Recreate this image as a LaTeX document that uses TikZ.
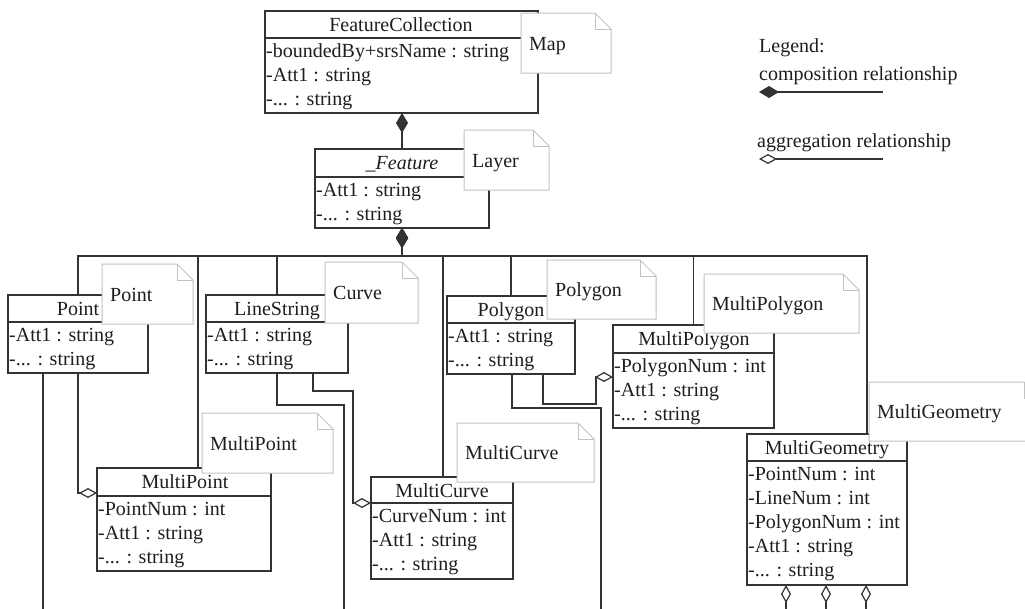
\documentclass[tikz,border=0pt]{standalone}
\usepackage{fontspec}
\setmainfont{Liberation Serif}
\usetikzlibrary{arrows.meta,calc}
\definecolor{ink}{HTML}{333333}
\definecolor{txt}{HTML}{1E1E1E}
\definecolor{notegray}{HTML}{C2C2C2}
\newcommand\tdots{...}
\tikzset{
  clsbox/.style={draw=ink, line width=1.2pt, fill=white, inner sep=0pt, outer sep=0pt, anchor=north west},
  clsline/.style={draw=ink, line width=1.2pt},
  clstitle/.style={inner sep=0pt, anchor=base, text=txt},
  clsattr/.style={inner sep=0pt, anchor=base west, text=txt},
  notebox/.style={inner sep=0pt, outer sep=0pt, anchor=north west},
  noteline/.style={draw=notegray, line width=1pt, fill=white},
  notetext/.style={inner sep=0pt, anchor=base west, text=txt},
  conn/.style={draw=ink, line width=1.2pt},
  comp/.style={conn, {Diamond[length=20pt,width=12pt]}-},
  agg/.style={conn, {Diamond[open,fill=white,length=18pt,width=10pt]}-},
  legtext/.style={inner sep=0pt, anchor=base west, text=txt}
}
% name, x1, y1, x2, ysep, y2, title x, title, rows
\newcommand\umlclass[9]{%
  \node[clsbox, minimum width={#4-#2}, minimum height={#6-#3}] (#1) at (#2,#3) {};
  \draw[clsline] (#1.west |- #2,#5) -- (#1.east |- #2,#5);
  \node[clstitle] (#1-t) at (#7,#3+20) {#8};
  \foreach \attrtext [count=\attrnum from 0] in {#9} {
    \node[clsattr] (#1-a\attrnum) at (#2+1,#5+19+24*\attrnum) {\attrtext};
  }%
}
% name, x1, y1, x2, y2, text
\newcommand\umlnote[6]{%
  \node[notebox, minimum width={#4-#2}, minimum height={#5-#3}] (#1) at (#2,#3) {};
  \draw[noteline] (#1.north west) -- ([xshift=-16pt]#1.north east) -- ([yshift=-16pt]#1.north east) -- (#1.south east) -- (#1.south west) -- cycle;
  \draw[noteline, fill=none] ([xshift=-16pt]#1.north east) |- ([yshift=-16pt]#1.north east);
  \node[notetext] (#1-t) at (#2+8,{(#3+#5)/2+7}) {#6};
}
\begin{document}
\begin{tikzpicture}[x=1pt,y=-1pt,font=\fontsize{20}{24}\selectfont]
\useasboundingbox[fill=white] (0,0) rectangle (1025,608);

% classes
\umlclass{fc}{265}{11}{538}{38}{113}{401}{FeatureCollection}{-boundedBy+srsName : string,-Att1 : string,-\tdots{} : string}
\umlclass{feat}{315}{149}{489}{177}{228}{402}{\itshape \_Feature}{-Att1 : string,-\tdots{} : string}
\umlclass{point}{8}{295}{148}{322}{373}{78}{Point}{-Att1 : string,-\tdots{} : string}
\umlclass{ls}{206}{295}{348}{322}{373}{277}{LineString}{-Att1 : string,-\tdots{} : string}
\umlclass{pg}{447}{296}{575}{323}{374}{511}{Polygon}{-Att1 : string,-\tdots{} : string}
\umlclass{mpg}{613}{325}{774}{353}{428}{694}{MultiPolygon}{-PolygonNum : int,-Att1 : string,-\tdots{} : string}
\umlclass{mpt}{97}{468}{271}{496}{571}{185}{MultiPoint}{-PointNum : int,-Att1 : string,-\tdots{} : string}
\umlclass{mc}{371}{477}{513}{503}{579}{442}{MultiCurve}{-CurveNum : int,-Att1 : string,-\tdots{} : string}
\umlclass{mg}{747}{434}{907}{461}{585}{827}{MultiGeometry}{-PointNum : int,-LineNum : int,-PolygonNum : int,-Att1 : string,-\tdots{} : string}

% free ends below the picture
\coordinate (b1) at (43,620);
\coordinate (b2) at (344,620);
\coordinate (b3) at (601,620);
\coordinate (b4) at (786,620);
\coordinate (b5) at (826,620);
\coordinate (b6) at (866,620);
\coordinate (busy) at (0,256);

% composition
\draw[comp] (402,0 |- fc.south) -- (402,0 |- feat.north);
\draw[comp] (feat.south) -- (feat.south |- busy) -| (point.north);
\draw[comp] (feat.south) -- (feat.south |- busy) -| (198,0 |- mpt.north);
\draw[comp] (feat.south) -- (feat.south |- busy) -| (ls.north);
\draw[comp] (feat.south) -- (feat.south |- busy) -| (443,0 |- mc.north);
\draw[comp] (feat.south) -- (feat.south |- busy) -| (pg.north);
\draw[comp] (feat.south) -- (feat.south |- busy) -| (mpg.north);
\draw[comp] (feat.south) -- (feat.south |- busy) -| (867,0 |- mg.north);

% aggregation and other links
\draw[agg] (mpt.west |- 0,493) -| (78,0 |- point.south);
\draw[conn] (43,0 |- point.south) -- (b1);
\draw[agg] (mc.west |- 0,503) -- (353,503) |- (313,391) -- (313,0 |- ls.south);
\draw[conn] (277,0 |- ls.south) |- (344,405) -- (b2);
\draw[agg] (mpg.west |- 0,377) -- (596,377) |- (543,404) -- (543,0 |- pg.south);
\draw[conn] (512,0 |- pg.south) |- (601,408) -- (b3);
\draw[agg] (786,0 |- mg.south) -- (b4);
\draw[agg] (826,0 |- mg.south) -- (b5);
\draw[agg] (866,0 |- mg.south) -- (b6);

% notes
\umlnote{nmap}{521}{13}{611}{73}{Map}
\umlnote{nlayer}{464}{130}{549}{190}{Layer}
\umlnote{npoint}{102}{264}{193}{324}{Point}
\umlnote{ncurve}{325}{262}{418}{323}{Curve}
\umlnote{npolygon}{547}{260}{656}{319}{Polygon}
\umlnote{nmpg}{704}{274}{859}{333}{MultiPolygon}
\umlnote{nmpt}{202}{413}{333}{473}{MultiPoint}
\umlnote{nmc}{457}{423}{594}{482}{MultiCurve}
\umlnote{nmg}{869}{382}{1040}{441}{MultiGeometry}

% legend
\node[legtext] (lg0) at (759,52) {Legend:};
\node[legtext] (lg1) at (759,80) {composition relationship};
\node[legtext] (lg2) at (757,147) {aggregation relationship};
\coordinate (lc1) at (759,92);
\coordinate (lc2) at (883,92);
\coordinate (la1) at (759,159);
\coordinate (la2) at (883,159);
\draw[comp] (lc1) -- (lc2);
\draw[agg] (la1) -- (la2);
\end{tikzpicture}
\end{document}
